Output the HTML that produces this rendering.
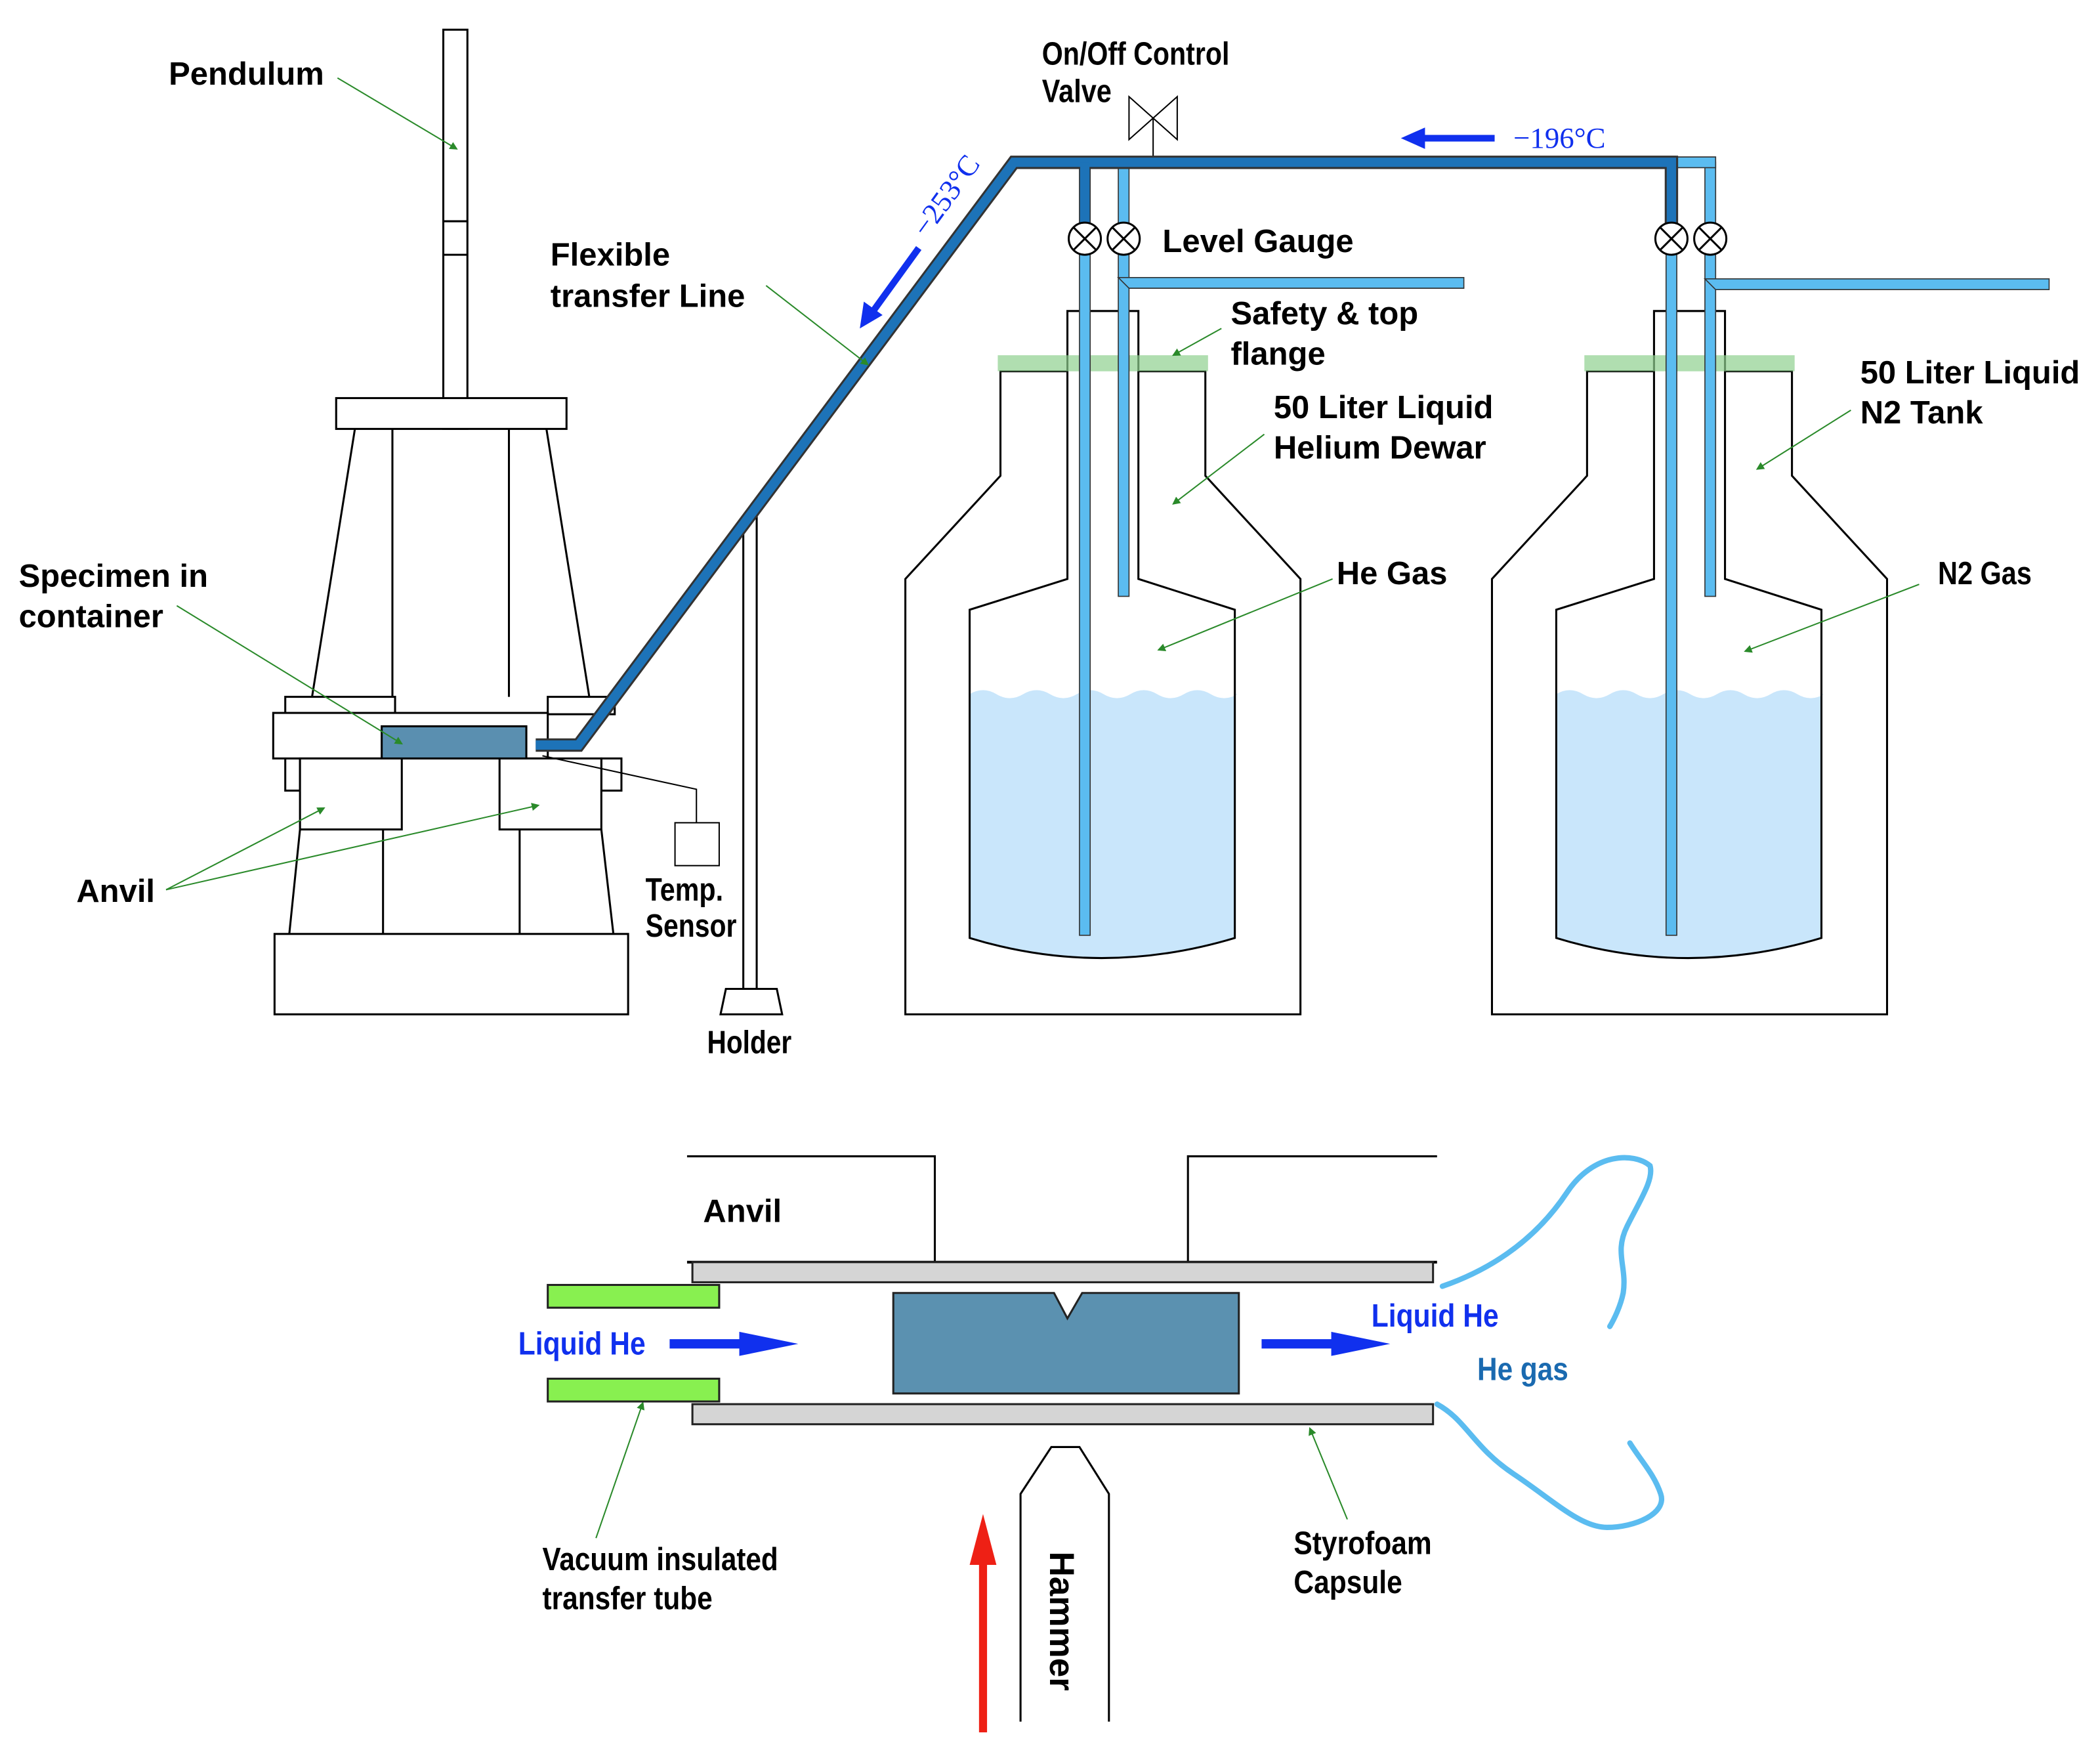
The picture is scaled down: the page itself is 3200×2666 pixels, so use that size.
<!DOCTYPE html>
<html><head><meta charset="utf-8"><style>
html,body{margin:0;padding:0;background:#fff;}
svg{display:block}
text{font-family:"Liberation Sans",Arial,sans-serif;font-weight:bold;font-size:24px;fill:#000}
</style></head><body>
<svg width="3200" height="2666" viewBox="0 0 1568 1306" xmlns="http://www.w3.org/2000/svg">
<defs>
<marker id="ga" markerWidth="6" markerHeight="6" refX="5" refY="3" orient="auto"><path d="M0,0 L6,3 L0,6 z" fill="#2a8a2a"/></marker>
</defs>
<g fill="none" stroke="#000" stroke-width="1.5">
<rect x="331" y="22" width="18" height="298" fill="#fff"/>
<line x1="331" y1="165" x2="349" y2="165"/><line x1="331" y1="190" x2="349" y2="190"/>
<rect x="251" y="297" width="172" height="23" fill="#fff"/>
<line x1="265" y1="320" x2="233" y2="520"/><line x1="293" y1="320" x2="293" y2="520"/>
<line x1="380" y1="320" x2="380" y2="520"/><line x1="408" y1="320" x2="440" y2="520"/>
<rect x="213" y="520" width="82" height="13" fill="#fff"/><rect x="409" y="520" width="50" height="13" fill="#fff"/>
<rect x="213" y="566" width="11" height="24"/><rect x="449" y="566" width="15" height="24"/>
<rect x="204" y="532" width="205" height="34" fill="#fff"/>
<rect x="224" y="566" width="76" height="53" fill="#fff"/><rect x="373" y="566" width="76" height="53" fill="#fff"/>
<line x1="224" y1="619" x2="216" y2="697"/><line x1="286" y1="619" x2="286" y2="697"/>
<line x1="388" y1="619" x2="388" y2="697"/><line x1="449" y1="619" x2="458" y2="697"/>
<rect x="205" y="697" width="264" height="60"/>
<rect x="555" y="385" width="10" height="353" fill="#fff"/>
<path d="M542,738 L580,738 L584,757 L538,757 z" fill="#fff"/>
<rect x="504" y="614" width="33" height="32" stroke-width="1"/>
<path d="M520,614 L520,589 L405,564" stroke-width="1"/>
<path d="M843,72 L879,104 L879,72 L843,104 z" stroke-width="1"/>
<line x1="861" y1="88" x2="861" y2="121" stroke-width="1"/>
</g>
<rect x="285" y="542" width="108" height="24" fill="#5a8fb0" stroke="#000" stroke-width="1.5"/>

<g id="dw">
<path d="M797,277 L747,277 L747,355 L676,432 L676,757 L971,757 L971,432 L900,355 L900,277 L850,277" fill="none" stroke="#000" stroke-width="1.5"/>
<path d="M724,518 q10,-6 20,0 t20,0 t20,0 t20,0 t20,0 t20,0 t20,0 t20,0 t20,0 t20,0 L922,518 L922,700 Q822,730 724,700 z" fill="#c9e6fb"/>
<path d="M797,232 L850,232 L850,432 L922,455 L922,700 Q822,730 724,700 L724,455 L797,432 z" fill="none" stroke="#000" stroke-width="1.5"/>
<rect x="745" y="265" width="157" height="12" fill="#8fd08f" opacity="0.7"/>
</g>
<use href="#dw" transform="translate(438,0)"/>

<g stroke="#333" stroke-width="0.8">
<rect x="806" y="121" width="8" height="57" fill="#1d6fb0"/>
<rect x="806" y="178" width="8" height="520" fill="#5bbcf0"/>
<rect x="835" y="121" width="8" height="324" fill="#5bbcf0"/>
<path d="M835,207 L1093,207 L1093,215 L843,215 z" fill="#5bbcf0"/>
<rect x="1244" y="121" width="8" height="57" fill="#1d6fb0"/>
<rect x="1244" y="178" width="8" height="520" fill="#5bbcf0"/>
<rect x="1273" y="121" width="8" height="324" fill="#5bbcf0"/>
<path d="M1252,117 L1281,117 L1281,125 L1252,125 z" fill="#5bbcf0"/>
<path d="M1273,208 L1530,208 L1530,216 L1281,216 z" fill="#5bbcf0"/>
</g>
<path d="M400,556 L432,556 L757,121 L1248,121 L1248,178" fill="none" stroke="#333" stroke-width="10"/>
<path d="M400,556 L432,556 L757,121 L1248,121 L1248,178" fill="none" stroke="#1d73b8" stroke-width="7"/>
<line x1="810" y1="121" x2="810" y2="178" stroke="#1d73b8" stroke-width="7"/>
<g fill="#fff" stroke="#000" stroke-width="1.5">
<circle cx="810" cy="178" r="12"/><circle cx="839" cy="178" r="12"/>
<circle cx="1248" cy="178" r="12"/><circle cx="1277" cy="178" r="12"/>
<path d="M802,170 L818,186 M818,170 L802,186 M831,170 L847,186 M847,170 L831,186 M1240,170 L1256,186 M1256,170 L1240,186 M1269,170 L1285,186 M1285,170 L1269,186"/>
</g>

<path d="M1116,103 L1062,103" stroke="#1030ee" stroke-width="5"/><path d="M1046,103 L1064,95 L1064,111 z" fill="#1030ee"/>
<text x="1130" y="110" style="font-family:'Liberation Serif',serif;font-weight:normal;fill:#1030ee;font-size:22px">−196°C</text>
<path d="M686,185 L652,232" stroke="#1030ee" stroke-width="5"/><path d="M642,245 L645,225 L659,235 z" fill="#1030ee"/>
<text transform="translate(692,178) rotate(-54)" style="font-family:'Liberation Serif',serif;font-weight:normal;fill:#1030ee;font-size:22px">−253°C</text>

<g stroke="#2a8a2a" stroke-width="1" marker-end="url(#ga)">
<line x1="252" y1="58" x2="341" y2="111"/>
<line x1="572" y1="213" x2="648" y2="272"/>
<line x1="132" y1="452" x2="300" y2="555"/>
<line x1="124" y1="664" x2="242" y2="603"/>
<line x1="124" y1="664" x2="402" y2="601"/>
<line x1="912" y1="245" x2="876" y2="265"/>
<line x1="944" y1="324" x2="876" y2="376"/>
<line x1="995" y1="432" x2="865" y2="485"/>
<line x1="1382" y1="306" x2="1312" y2="350"/>
<line x1="1433" y1="436" x2="1303" y2="486"/>
<line x1="445" y1="1148" x2="480" y2="1047"/>
<line x1="1006" y1="1134" x2="978" y2="1066"/>
</g>

<text x="126" y="63">Pendulum</text>
<text x="411" y="198">Flexible</text><text x="411" y="229">transfer Line</text>
<text x="14" y="438">Specimen in</text><text x="14" y="468">container</text>
<text x="57" y="673">Anvil</text>
<text x="482" y="672" textLength="58" lengthAdjust="spacingAndGlyphs">Temp.</text>
<text x="482" y="699" textLength="68" lengthAdjust="spacingAndGlyphs">Sensor</text>
<text x="528" y="786" textLength="63" lengthAdjust="spacingAndGlyphs">Holder</text>
<text x="778" y="48" textLength="140" lengthAdjust="spacingAndGlyphs">On/Off Control</text>
<text x="778" y="76" textLength="52" lengthAdjust="spacingAndGlyphs">Valve</text>
<text x="868" y="188">Level Gauge</text>
<text x="919" y="242">Safety &amp; top</text><text x="919" y="272">flange</text>
<text x="951" y="312">50 Liter Liquid</text><text x="951" y="342">Helium Dewar</text>
<text x="998" y="436">He Gas</text>
<text x="1389" y="286">50 Liter Liquid</text><text x="1389" y="316">N2 Tank</text>
<text x="1447" y="436" textLength="70" lengthAdjust="spacingAndGlyphs">N2 Gas</text>

<g fill="none" stroke="#000" stroke-width="1.5">
<path d="M513,863 L698,863 L698,942"/><path d="M887,942 L887,863 L1073,863"/>
<line x1="513" y1="942" x2="1073" y2="942" stroke-width="2"/>
</g>
<rect x="517" y="942" width="553" height="15" fill="#d5d5d5" stroke="#222" stroke-width="1.5"/>
<rect x="517" y="1048" width="553" height="15" fill="#d5d5d5" stroke="#222" stroke-width="1.5"/>
<rect x="409" y="959" width="128" height="17" fill="#88f050" stroke="#222" stroke-width="1.5"/>
<rect x="409" y="1029" width="128" height="17" fill="#88f050" stroke="#222" stroke-width="1.5"/>
<path d="M667,965 L787,965 L797,984 L808,965 L925,965 L925,1040 L667,1040 z" fill="#5b91b0" stroke="#222" stroke-width="1.5"/>
<path d="M500,1003 L556,1003" stroke="#1030ee" stroke-width="7"/><path d="M552,994 L596,1003 L552,1012 z" fill="#1030ee"/>
<path d="M942,1003 L998,1003" stroke="#1030ee" stroke-width="7"/><path d="M994,994 L1038,1003 L994,1012 z" fill="#1030ee"/>
<path d="M762,1285 L762,1115 L785,1080 L806,1080 L828,1115 L828,1285" fill="none" stroke="#000" stroke-width="1.5"/>
<text transform="translate(784,1210) rotate(90)" text-anchor="middle" style="font-size:26px">Hammer</text>
<path d="M734,1293 L734,1165" stroke="#ee2015" stroke-width="6"/><path d="M724,1168 L734,1130 L744,1168 z" fill="#ee2015"/>
<g fill="none" stroke="#5bbcf0" stroke-width="4" stroke-linecap="round">
<path d="M1077,960 C1120,945 1150,920 1170,890 C1190,860 1220,860 1232,870 C1235,880 1225,895 1215,915 C1205,935 1215,945 1212,965 C1210,975 1205,985 1202,990"/>
<path d="M1073,1048 C1095,1060 1100,1080 1130,1100 C1160,1120 1180,1140 1200,1140 C1220,1140 1245,1130 1240,1115 C1235,1100 1225,1090 1217,1077"/>
</g>
<text x="525" y="912">Anvil</text>
<text x="387" y="1011" style="fill:#1030ee" textLength="95" lengthAdjust="spacingAndGlyphs">Liquid He</text>
<text x="1024" y="990" style="fill:#1030ee" textLength="95" lengthAdjust="spacingAndGlyphs">Liquid He</text>
<text x="1103" y="1030" style="fill:#1a6ab0" textLength="68" lengthAdjust="spacingAndGlyphs">He gas</text>
<text x="405" y="1172" textLength="176" lengthAdjust="spacingAndGlyphs">Vacuum insulated</text>
<text x="405" y="1201" textLength="127" lengthAdjust="spacingAndGlyphs">transfer tube</text>
<text x="966" y="1160" textLength="103" lengthAdjust="spacingAndGlyphs">Styrofoam</text>
<text x="966" y="1189" textLength="81" lengthAdjust="spacingAndGlyphs">Capsule</text>
</svg>
</body></html>
